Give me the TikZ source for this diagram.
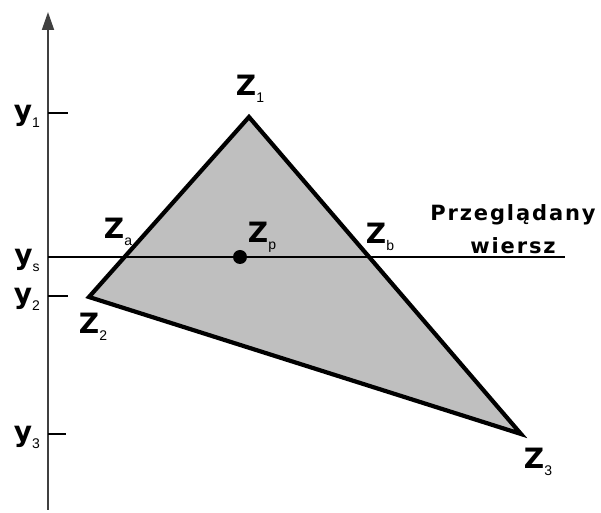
\documentclass[tikz,border=0pt]{standalone}
\usepackage{fontspec}
\setmainfont{Liberation Sans}
\newfontfamily\labfont{DejaVu Sans}
\newfontfamily\notefont[LetterSpace=9]{DejaVu Sans}
\usetikzlibrary{arrows.meta,positioning}
\newcommand{\lowidx}[1]{\raisebox{-0.45ex}{\fontspec{Liberation Sans}\fontsize{7}{7}\selectfont\mdseries #1}}

\begin{document}
\begin{tikzpicture}[
    x=0.5pt, y=-0.5pt,
    >=Triangle,
    axis/.style={line width=0.9pt, draw=black!75},
    tick/.style={line width=0.6pt, draw=black},
    scan/.style={line width=0.7pt, draw=black},
    tri/.style={line width=2.1pt, draw=black, fill=black!25, line join=miter},
    vlabel/.style={font=\labfont\fontsize{14}{14}\selectfont\bfseries, inner sep=0pt},
    ylabel/.style={font=\labfont\fontsize{14}{14}\selectfont\bfseries, inner sep=0pt},
    note/.style={font=\notefont\fontsize{10.5}{16.5}\selectfont\bfseries, align=center, inner sep=0pt}
  ]
    \useasboundingbox (0,0) rectangle (601,513);

    % axis
    \coordinate (base) at (48,510);
    \coordinate (top) at (48,12);
    \draw[axis,-{Triangle[length=9pt,width=6pt]}] (base) -- (top);

    % ticks
    \coordinate (t1) at (48,113);
    \coordinate (t1e) at (68,113);
    \coordinate (t2) at (48,296);
    \coordinate (t2e) at (68,296);
    \coordinate (t3) at (48,434);
    \coordinate (t3e) at (66,434);
    \draw[tick] (t1) -- (t1e);
    \draw[tick] (t2) -- (t2e);
    \draw[tick] (t3) -- (t3e);

    \node[ylabel] (y1) at (27,116) {y\lowidx{1}};
    \node[ylabel] (ys) at (27,260) {y\lowidx{s}};
    \node[ylabel] (y2) at (27,299) {y\lowidx{2}};
    \node[ylabel] (y3) at (27,437) {y\lowidx{3}};

    % triangle
    \coordinate (z1) at (249,117);
    \coordinate (z2) at (89,297);
    \coordinate (z3) at (521,434);
    \draw[tri] (z1) -- (z2) -- (z3) -- cycle;

    % scan line
    \coordinate (s0) at (48,257);
    \coordinate (s1) at (565,257);
    \draw[scan] (s0) -- (s1);

    \node[circle, fill=black, inner sep=0pt, minimum size=7pt] (zp) at (240,257) {};

    \node[vlabel] (lz1) at (250,89) {Z\lowidx{1}};
    \node[vlabel] (lz2) at (93,327) {Z\lowidx{2}};
    \node[vlabel] (lz3) at (538,462) {Z\lowidx{3}};
    \node[vlabel] (lza) at (118,232) {Z\lowidx{a}};
    \node[vlabel] (lzp) at (262,237) {Z\lowidx{p}};
    \node[vlabel] (lzb) at (380,237) {Z\lowidx{b}};

    \node[note] (lscan) at (513,229) {Przeglądany\\wiersz};
  \end{tikzpicture}
\end{document}
